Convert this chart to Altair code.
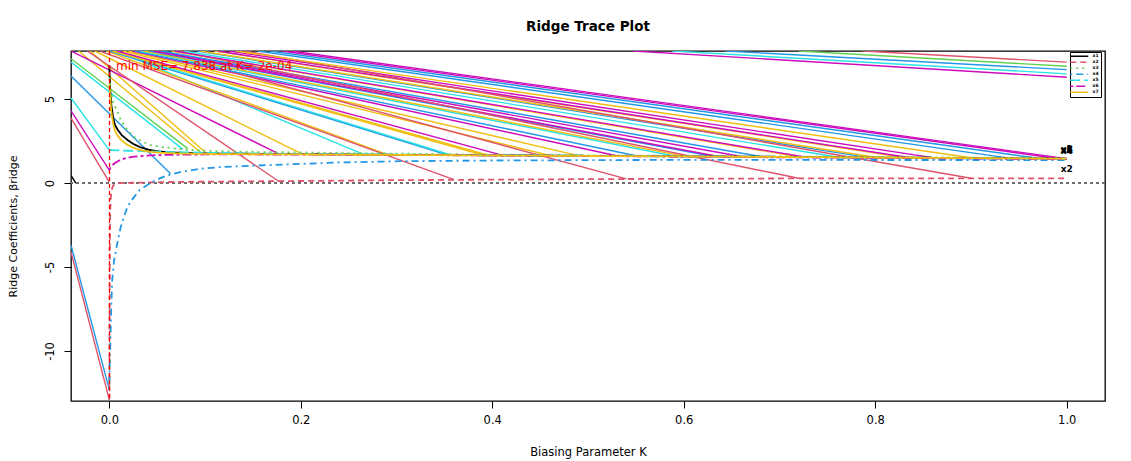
import altair as alt
import pandas as pd

# ---------------- data ----------------
VARS = ["x1", "x2", "x3", "x4", "x5", "x6", "x7"]
VAR_COLORS = ["#000000", "#DF536B", "#61D04F", "#2297E6", "#28E2E5", "#CD0BBC", "#F0BE10"]
VAR_DASHES = [[1, 0], [6, 4], [2, 4], [2, 4, 7, 4], [10, 4], [3, 3, 9, 3], [1, 0]]

k_x1 = [0.0, 0.0005, 0.001, 0.002, 0.004, 0.006, 0.009, 0.013, 0.019, 0.025, 0.032, 0.042, 0.053,
        0.07, 0.088, 0.12, 0.2, 0.3, 0.4, 0.5, 0.6, 0.7, 0.8, 0.9, 1.0]
b_x1 = [7.0, 6.2, 5.5, 4.7, 3.9, 3.45, 3.15, 2.85, 2.56, 2.33, 2.14, 1.97, 1.87,
        1.81, 1.78, 1.75, 1.72, 1.68, 1.65, 1.62, 1.59, 1.56, 1.52, 1.49, 1.45]

k_x2 = [0.0, 0.0005, 0.001, 0.002, 0.004, 0.01, 0.03, 0.064, 0.1, 0.2, 0.3, 0.4, 0.5, 0.6, 0.7,
        0.8, 0.9, 1.0]
b_x2 = [-12.9, -4.0, -1.5, -0.5, -0.15, 0.0, 0.02, 0.06, 0.08, 0.12, 0.17, 0.2, 0.23, 0.25, 0.27,
        0.28, 0.28, 0.28]

k_x3 = [0.0, 0.001, 0.004, 0.008, 0.012, 0.017, 0.022, 0.027, 0.035, 0.043, 0.055, 0.064, 0.085,
        0.11, 0.147, 0.2, 0.25, 0.3, 0.4, 0.5, 0.6, 0.7, 0.8, 0.9, 1.0]
b_x3 = [6.3, 5.8, 4.8, 4.3, 3.75, 3.3, 2.97, 2.7, 2.45, 2.26, 2.14, 2.08, 1.96,
        1.9, 1.85, 1.82, 1.78, 1.75, 1.69, 1.65, 1.61, 1.58, 1.55, 1.51, 1.48]

k_x4 = [0.0, 0.0005, 0.001, 0.002, 0.003, 0.005, 0.008, 0.012, 0.019, 0.025, 0.032, 0.046, 0.06,
        0.074, 0.095, 0.116, 0.168, 0.238, 0.307, 0.4, 0.5, 0.6, 0.7, 0.8, 0.9, 1.0]
b_x4 = [-12.3, -10.5, -9.8, -7.5, -5.8, -4.6, -3.7, -2.6, -1.4, -0.9, -0.4, 0.1, 0.45,
        0.65, 0.85, 0.95, 1.07, 1.22, 1.3, 1.34, 1.36, 1.38, 1.38, 1.37, 1.37, 1.36]

k_x5 = [0.0, 0.01, 0.02, 0.035, 0.05, 0.07, 0.1, 0.15, 0.2, 0.3, 0.4, 0.5, 0.6, 0.7, 0.8, 0.9, 1.0]
b_x5 = [1.96, 1.94, 1.92, 1.9, 1.87, 1.84, 1.8, 1.76, 1.73, 1.69, 1.65, 1.62, 1.58, 1.54, 1.5,
        1.47, 1.43]

k_x6 = [0.0, 0.002, 0.004, 0.006, 0.009, 0.012, 0.017, 0.024, 0.032, 0.045, 0.064, 0.1, 0.15,
        0.2, 0.3, 0.4, 0.5, 0.6, 0.7, 0.8, 0.9, 1.0]
b_x6 = [0.77, 0.98, 1.1, 1.19, 1.3, 1.38, 1.48, 1.55, 1.6, 1.65, 1.68, 1.7, 1.7,
        1.69, 1.67, 1.64, 1.61, 1.57, 1.53, 1.5, 1.46, 1.42]

k_x7 = [0.0, 0.0005, 0.001, 0.002, 0.004, 0.006, 0.009, 0.013, 0.019, 0.025, 0.032, 0.042, 0.053,
        0.07, 0.088, 0.12, 0.2, 0.3, 0.4, 0.5, 0.6, 0.7, 0.8, 0.9, 1.0]
b_x7 = [5.9, 5.5, 5.1, 4.3, 3.55, 3.1, 2.8, 2.52, 2.27, 2.1, 1.97, 1.86, 1.8,
        1.76, 1.74, 1.72, 1.7, 1.67, 1.64, 1.61, 1.58, 1.55, 1.52, 1.48, 1.45]

# straight connector segments (start K, start beta, end K, end beta, colour)
BL, RD, GR, BU, CY, MG, GD = VAR_COLORS
seg_k0 = [-0.04, -0.04, -0.04, -0.04, -0.04, -0.04, -0.04, -0.04, -0.04,
          -0.032, -0.020, -0.040, -0.023, -0.015, 0.008, -0.003, 0.000, -0.010, 0.004,
          0.003, 0.006, 0.008, 0.014, 0.020, 0.024, 0.047, 0.027, 0.032, 0.036, 0.042,
          0.046, 0.050, 0.054, 0.072, 0.065, 0.068, 0.078, 0.092, 0.095, 0.110, 0.113,
          0.125, 0.141, 0.132, 0.155, 0.168, 0.180, 0.190,
          0.547, 0.588, 0.644, 0.720, 0.787]
seg_y0 = [0.45, 3.87, 4.3, 5.06, 6.37, 7.2, 7.4, -4.1, -3.7,
          7.86, 7.86, 7.86, 7.86, 7.86, 7.86, 7.86, 7.86, 7.86, 7.86,
          7.86, 7.86, 7.86, 7.86, 7.86, 7.86, 7.86, 7.86, 7.86, 7.86, 7.86,
          7.86, 7.86, 7.86, 7.86, 7.86, 7.86, 7.86, 7.86, 7.86, 7.86, 7.86,
          7.86, 7.86, 7.86, 7.86, 7.86, 7.86, 7.86,
          7.86, 7.86, 7.86, 7.86, 7.86]
seg_k1 = [-0.035, 0.0, 0.0, 0.0, 0.064, 0.077, 0.082, 0.0, 0.0,
          0.095, 0.100, 0.175, 0.178, 0.200, 0.265, 0.290, 0.353, 0.360, 0.356,
          0.390, 0.395, 0.410, 0.460, 0.490, 0.530, 0.540, 0.550, 0.590, 0.600, 0.630,
          0.635, 0.660, 0.680, 0.720, 0.720, 0.725, 0.760, 0.790, 0.800, 0.830, 0.835,
          0.860, 0.900, 0.900, 0.940, 0.970, 0.990, 1.000,
          1.0, 1.0, 1.0, 1.0, 1.0]
seg_y1 = [0.0, 0.05, 0.77, 1.96, 0.55, 2.0, 2.05, -12.9, -12.3,
          1.85, 1.85, 1.79, 0.06, 1.76, 1.72, 1.71, 1.68, 0.20, 1.68,
          1.67, 1.67, 1.66, 1.64, 1.63, 1.62, 0.25, 1.62, 1.61, 1.60, 1.59,
          1.59, 1.58, 1.58, 0.28, 1.56, 1.56, 1.55, 1.54, 1.53, 1.52, 1.52,
          1.51, 0.28, 1.50, 1.48, 1.47, 1.46, 1.45,
          6.3, 6.5, 6.75, 6.95, 7.2]
seg_col = [BL, RD, MG, CY, BU, CY, GR, RD, BU,
           GD, GD, MG, RD, GD, CY, GD, BU, RD, CY,
           GD, GD, MG, GD, GD, MG, RD, BU, CY, GD, BU,
           MG, MG, BU, RD, GD, MG, CY, BU, GD, GD, MG,
           MG, RD, GD, BU, BU, MG, MG,
           MG, CY, BU, GR, RD]

k_min = [0.0002]
zero_line = [0.0]
ann_k = [0.007]
ann_y = [6.96]
ann_text = ["min MSE= 7.838 at K= 2e-04"]

x_ticks = [0.0, 0.2, 0.4, 0.6, 0.8, 1.0]
y_ticks = [-10, -5, 0, 5]

# ---------------- tables ----------------
trace_src = {"x1": (k_x1, b_x1), "x2": (k_x2, b_x2), "x3": (k_x3, b_x3), "x4": (k_x4, b_x4),
             "x5": (k_x5, b_x5), "x6": (k_x6, b_x6), "x7": (k_x7, b_x7)}
rows = []
for v, (ks, bs) in trace_src.items():
    for i, (k, b) in enumerate(zip(ks, bs)):
        rows.append({"var": v, "K": k, "beta": b, "ord": i})
trace_df = pd.DataFrame(rows)
end_df = pd.DataFrame([{"var": v, "K": ks[-1], "beta": bs[-1]} for v, (ks, bs) in trace_src.items()])
seg_df = pd.DataFrame({"k0": seg_k0, "y0": seg_y0, "k1": seg_k1, "y1": seg_y1, "col": seg_col,
                       "i": list(range(len(seg_k0)))})

FONT = "DejaVu Sans"
xs = alt.Scale(domain=[-0.04, 1.04], nice=False, zero=False)
ys = alt.Scale(domain=[-12.98, 7.86], nice=False, zero=False)
xaxis = alt.Axis(title="Biasing Parameter K", values=x_ticks, format=".1f", grid=False,
                 domain=False, tickSize=7, tickColor="black", labelPadding=6, titlePadding=21,
                 labelFontSize=11.5, titleFontSize=11.5, labelColor="black", titleColor="black",
                 titleFontWeight="normal", labelFont=FONT, titleFont=FONT)
yaxis = alt.Axis(title="Ridge Coefficients, βridge", values=y_ticks,
                 labelExpr="datum.value + ''", grid=False, domain=False, tickSize=7,
                 tickColor="black", labelAngle=270, labelAlign="center", labelBaseline="bottom",
                 labelPadding=9, titlePadding=26, labelFontSize=11.5, titleFontSize=11,
                 labelColor="black", titleColor="black", titleFontWeight="normal",
                 labelFont=FONT, titleFont=FONT)

segs = alt.Chart(seg_df).mark_rule(clip=True, strokeWidth=1.4).encode(
    x=alt.X("k0:Q", scale=xs, axis=xaxis),
    y=alt.Y("y0:Q", scale=ys, axis=yaxis),
    x2="k1:Q", y2="y1:Q",
    stroke=alt.Stroke("col:N", scale=None),
)

zero = alt.Chart(pd.DataFrame({"y": zero_line})).mark_rule(
    color="#6E6E6E", strokeWidth=2, strokeDash=[3, 3], clip=True
).encode(y=alt.Y("y:Q", scale=ys, axis=yaxis))

vline = alt.Chart(pd.DataFrame({"k": k_min})).mark_rule(
    color="#FF0000", strokeWidth=1.3, strokeDash=[4, 3], clip=True
).encode(x=alt.X("k:Q", scale=xs, axis=xaxis))

legend = alt.Legend(title=None, orient="none", legendX=999, legendY=1, symbolType="M-4,0H14",
                    symbolSize=4, symbolStrokeWidth=1.3, labelFontSize=4.5, labelOffset=16,
                    padding=2, rowPadding=0, strokeColor="black", fillColor="white",
                    labelFont=FONT, labelColor="black", cornerRadius=0, labelFontWeight="bold")

lines = alt.Chart(trace_df).mark_line(clip=True, strokeWidth=1.8).encode(
    x=alt.X("K:Q", scale=xs, axis=xaxis),
    y=alt.Y("beta:Q", scale=ys, axis=yaxis),
    color=alt.Color("var:N", scale=alt.Scale(domain=VARS, range=VAR_COLORS), legend=legend),
    strokeDash=alt.StrokeDash("var:N", scale=alt.Scale(domain=VARS, range=VAR_DASHES), legend=legend),
    order="ord:Q",
)

labels = alt.Chart(end_df).mark_text(font=FONT, fontSize=9, fontWeight="bold", color="black",
                                      dy=-9).encode(
    x=alt.X("K:Q", scale=xs, axis=xaxis),
    y=alt.Y("beta:Q", scale=ys, axis=yaxis),
    text="var:N",
)

ann = alt.Chart(pd.DataFrame({"k": ann_k, "y": ann_y, "t": ann_text})).mark_text(
    font=FONT, fontSize=12, color="#FF0000", align="left", baseline="middle"
).encode(x=alt.X("k:Q", scale=xs, axis=xaxis), y=alt.Y("y:Q", scale=ys, axis=yaxis), text="t:N")

chart = alt.layer(segs, zero, lines, vline, labels, ann).properties(
    width=1034, height=350,
    autosize=alt.AutoSizeParams(type="none"),
    padding={"left": 63, "top": 43, "right": 10, "bottom": 59},
    background="white",
    title=alt.TitleParams("Ridge Trace Plot", font=FONT, fontSize=13.5, fontWeight="bold",
                          anchor="middle", offset=18, color="black"),
).configure_view(stroke="#000000", strokeWidth=1.3)

chart.save("out.html", embed_options={"renderer": "svg", "actions": False})
